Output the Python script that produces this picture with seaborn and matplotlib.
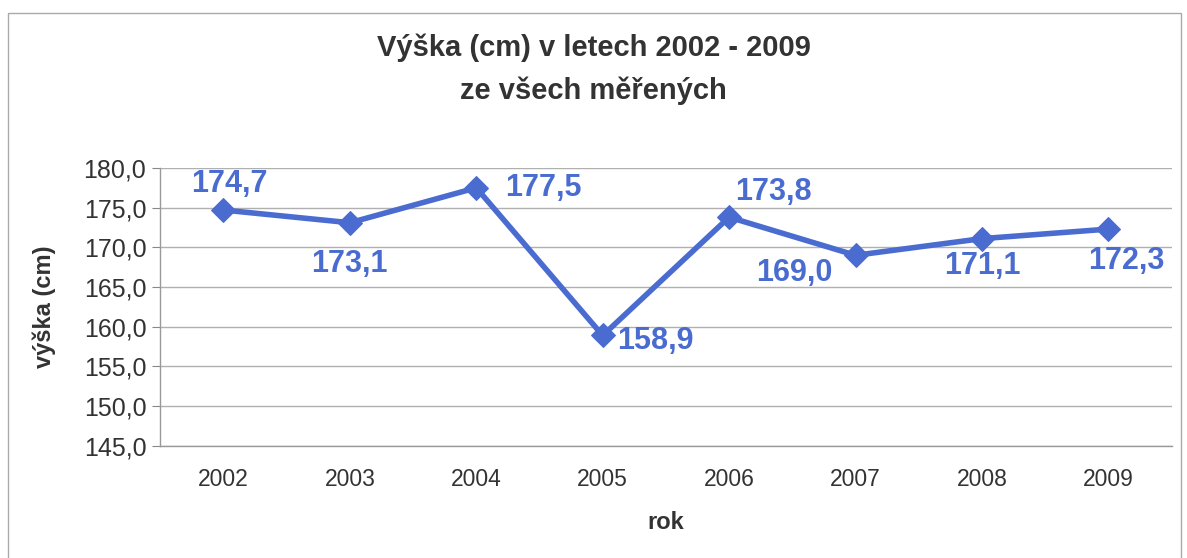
import numpy as np
import pandas as pd
import matplotlib
matplotlib.use("Agg")
import matplotlib.pyplot as plt
import seaborn as sns
from matplotlib.patches import Rectangle

# data
years = ["2002", "2003", "2004", "2005", "2006", "2007", "2008", "2009"]
heights = [174.7, 173.1, 177.5, 158.9, 173.8, 169.0, 171.1, 172.3]
# label offsets (points) for the data labels
label_offsets = [(4, 19), (0, -30), (48, 0), (38, -4), (32, 18), (-44, -13), (0, -20), (13, -23)]

df = pd.DataFrame({"rok": years, "vyska": heights})
df["pos"] = np.arange(len(years))

sns.set_style("white")
plt.rcParams["font.family"] = ["Liberation Sans", "DejaVu Sans"]

blue = "#4a6cd0"
fig = plt.figure(figsize=(11.87, 5.58), dpi=100)
ax = fig.add_axes([0.135, 0.201, 0.852, 0.498])

sns.lineplot(data=df, x="pos", y="vyska", ax=ax, color=blue, linewidth=4,
             marker="D", markersize=12, markeredgecolor=blue)

for i, (x, y) in enumerate(zip(df["pos"], df["vyska"])):
    dx, dy = label_offsets[i]
    ax.annotate(f"{y:.1f}".replace(".", ","), (x, y), xytext=(dx, dy),
                textcoords="offset points", ha="center", va="center",
                fontsize=22, fontweight="bold", color=blue)

ax.set_ylim(145, 180)
ax.set_xlim(-0.5, len(years) - 0.5)
yt = np.arange(145, 181, 5)
ax.set_yticks(yt)
ax.set_yticklabels([f"{v:.1f}".replace(".", ",") for v in yt], fontsize=18, color="#333333")
ax.set_xticks(df["pos"])
ax.set_xticklabels(years, fontsize=16.5, color="#333333")
ax.set_xticks(np.arange(-0.5, len(years)), minor=True)
ax.tick_params(axis="x", which="major", length=0, pad=16)
ax.tick_params(axis="x", which="minor", length=6, color="#888888", direction="out")
ax.tick_params(axis="y", length=6, color="#888888", direction="out", left=True, pad=4)

ax.grid(axis="y", color="#b0b0b0", linewidth=1)
ax.set_axisbelow(True)
for s in ["top", "right"]:
    ax.spines[s].set_visible(False)
for s in ["left", "bottom"]:
    ax.spines[s].set_color("#999999")
    ax.spines[s].set_linewidth(1)

ax.set_xlabel("rok", fontsize=17, fontweight="bold", color="#333333", labelpad=14)
ax.set_ylabel("výška (cm)", fontsize=17, fontweight="bold", color="#333333", labelpad=20)

fig.text(0.5, 0.915, "Výška (cm) v letech 2002 - 2009", ha="center", va="center",
         fontsize=21, fontweight="bold", color="#333333")
fig.text(0.5, 0.838, "ze všech měřených", ha="center", va="center",
         fontsize=21, fontweight="bold", color="#333333")

# chart frame
fig.patches.append(Rectangle((0.007, -0.01), 0.988, 0.987, transform=fig.transFigure,
                             fill=False, edgecolor="#aaaaaa", linewidth=1))

fig.savefig("out.png", dpi=100)
